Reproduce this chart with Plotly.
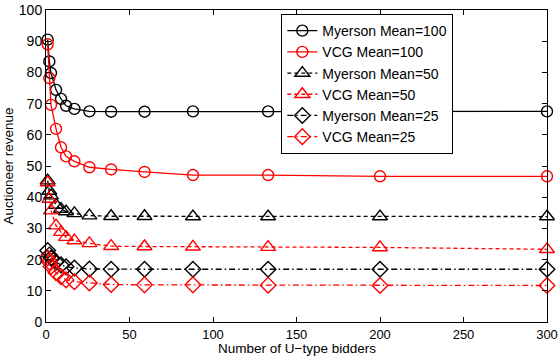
import plotly.graph_objects as go

# Number of U-type bidders at which revenue was evaluated
bidders = [1, 2, 3, 6, 9, 12, 17, 26, 39, 59, 88, 133, 200, 300]

# Auctioneer revenue per mechanism and bidder value mean
myerson_100 = [90.5, 83.5, 79.8, 74.4, 71.5, 69.3, 68.3, 67.5, 67.4, 67.4, 67.5, 67.5, 67.5, 67.5]
vcg_100 = [89.0, 78.2, 69.6, 61.9, 56.0, 53.1, 51.5, 49.6, 48.9, 48.1, 47.1, 47.1, 46.7, 46.7]
myerson_50 = [45.3, 42.0, 40.5, 37.5, 36.2, 35.4, 34.8, 34.1, 33.9, 33.9, 33.8, 33.8, 33.8, 33.8]
vcg_50 = [44.7, 39.4, 35.7, 30.9, 28.8, 27.2, 26.1, 25.2, 24.3, 24.2, 24.1, 24.0, 23.9, 23.3]
myerson_25 = [22.9, 21.5, 20.5, 19.2, 18.3, 17.7, 17.3, 17.0, 16.9, 16.9, 16.9, 16.9, 16.9, 16.9]
vcg_25 = [20.5, 19.2, 17.8, 15.8, 14.5, 13.5, 12.9, 12.5, 12.0, 11.9, 11.9, 11.8, 11.7, 11.7]

x_tick_values = [0, 50, 100, 150, 200, 250, 300]
y_tick_values = list(range(0, 101, 10))

series = [
    ("Myerson Mean=100", myerson_100, "black", "solid", "circle-open", 11),
    ("VCG Mean=100", vcg_100, "red", "solid", "circle-open", 11),
    ("Myerson Mean=50", myerson_50, "black", "4px,3px", "triangle-up-open", 13),
    ("VCG Mean=50", vcg_50, "red", "4px,3px", "triangle-up-open", 13),
    ("Myerson Mean=25", myerson_25, "black", "6px,3px,1.5px,3px", "diamond-open", 12),
    ("VCG Mean=25", vcg_25, "red", "6px,3px,1.5px,3px", "diamond-open", 12),
]

fig = go.Figure()
for i, (name, vals, color, dash, symbol, msize) in enumerate(series):
    fig.add_trace(go.Scatter(
        x=bidders, y=vals, name=name, mode="lines+markers", legendgroup=f"g{i}",
        line=dict(color=color, width=1.3, dash=dash),
        marker=dict(symbol=symbol, size=msize, color=color, line=dict(width=1.4, color=color)),
        cliponaxis=False,
    ))

font = dict(family="Liberation Sans, Arial, sans-serif", size=14, color="black")
xfont = dict(font, size=13)
capfont = dict(font, size=13.5)
axis_common = dict(
    showgrid=False, zeroline=False, showline=True, linecolor="black", linewidth=1,
    mirror="ticks", ticks="inside", ticklen=5, tickcolor="black", tickwidth=1,
    automargin=False,
)

fig.update_layout(
    width=560, height=358,
    margin=dict(l=46, r=13, t=10, b=36),
    paper_bgcolor="white", plot_bgcolor="white",
    font=font,
    xaxis=dict(range=[0, 300], tickvals=x_tick_values, tickfont=xfont, **axis_common),
    yaxis=dict(range=[0, 100], tickvals=y_tick_values, tickfont=font,
               title=dict(text="Auctioneer revenue", font=capfont, standoff=2),
               **axis_common),
    legend=dict(
        x=0.813, y=0.987, xanchor="right", yanchor="top",
        bordercolor="black", borderwidth=1, bgcolor="white",
        font=font, itemwidth=30, tracegroupgap=0,
    ),
    showlegend=True,
)

# x-axis caption sits tight under the tick labels
fig.add_annotation(
    text="Number of U\u2212type bidders", xref="paper", yref="paper",
    x=0.5, y=-0.0577, xanchor="center", yanchor="top", borderpad=0,
    showarrow=False, font=capfont,
)

fig.write_html("out.html")
